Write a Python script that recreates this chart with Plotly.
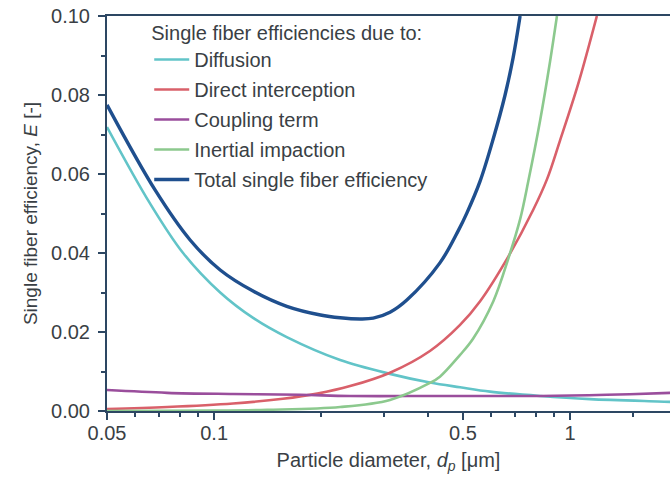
import math
import plotly.graph_objects as go

# ---- data (particle diameter in µm, efficiency E [-]) ----
diff_d = [0.05, 0.0661, 0.0818, 0.104, 0.129, 0.160, 0.226, 0.312, 0.404, 0.491, 0.596, 0.824, 1.138, 1.91, 2.0]
diff_e = [0.0719, 0.0525, 0.0400, 0.0300, 0.0235, 0.0187, 0.0129, 0.0094, 0.0072, 0.0060, 0.0049, 0.0038, 0.0030, 0.0023, 0.0022]

inter_d = [0.05, 0.0738, 0.113, 0.156, 0.195, 0.241, 0.312, 0.404, 0.491, 0.559, 0.671, 0.789, 0.862, 0.937, 1.053, 1.19]
inter_e = [0.0005, 0.0010, 0.0019, 0.0031, 0.0044, 0.0063, 0.0097, 0.0152, 0.0218, 0.0278, 0.0391, 0.0510, 0.0587, 0.0684, 0.0826, 0.1]

coup_d = [0.05, 0.0738, 0.113, 0.1745, 0.241, 0.431, 0.824, 1.27, 1.91, 2.0]
coup_e = [0.0053, 0.0046, 0.0043, 0.0041, 0.0038, 0.0038, 0.0038, 0.0041, 0.0046, 0.0047]

inert_d = [0.05, 0.1, 0.141, 0.226, 0.312, 0.404, 0.431, 0.491, 0.534, 0.609, 0.671, 0.724, 0.764, 0.824, 0.879, 0.919]
inert_e = [0.0000, 0.0001, 0.0003, 0.0010, 0.0028, 0.0071, 0.0087, 0.0142, 0.0183, 0.0278, 0.0386, 0.0485, 0.0583, 0.0735, 0.0885, 0.1]

total_d = [0.05, 0.0683, 0.0856, 0.104, 0.129, 0.160, 0.199, 0.226, 0.257, 0.280, 0.312, 0.348, 0.431, 0.485, 0.513, 0.559, 0.609, 0.657, 0.692, 0.724]
total_e = [0.0775, 0.0559, 0.0433, 0.0357, 0.0303, 0.0265, 0.0243, 0.0236, 0.0233, 0.0235, 0.0250, 0.0281, 0.0375, 0.0456, 0.0501, 0.0582, 0.0690, 0.0800, 0.0894, 0.1]

series_names = ["Diffusion", "Direct interception", "Coupling term", "Inertial impaction",
                "Total single fiber efficiency"]

x_major = [0.05, 0.1, 0.5, 1, 2]
x_major_labels = ["0.05", "0.1", "0.5", "1", "2"]
x_minor = [0.06, 0.07, 0.08, 0.09, 0.2, 0.3, 0.4, 0.6, 0.7, 0.8, 0.9, 1.5]
y_major = [0.00, 0.02, 0.04, 0.06, 0.08, 0.10]
y_minor = [0.01, 0.03, 0.05, 0.07, 0.09]

x_min, x_max = 0.05, 1.91
y_min, y_max = 0.0, 0.10

# ---- styling ----
FONT = "Liberation Sans, Arial, sans-serif"
TXT = "#3a3f45"
AXC = "#2d4763"
colors = ["#62c4c8", "#d9606a", "#9a4e9c", "#8cc98e", "#1f4f8e"]
widths = [2.6, 2.6, 2.6, 2.6, 3.4]

fig = go.Figure()
data = [(diff_d, diff_e), (inter_d, inter_e), (coup_d, coup_e), (inert_d, inert_e), (total_d, total_e)]
for i, ((xd, yd), name) in enumerate(zip(data, series_names)):
    fig.add_trace(go.Scatter(
        x=xd, y=yd, mode="lines", name=name, legendgroup=f"g{i}",
        line=dict(color=colors[i], width=widths[i], shape="spline", smoothing=1.0),
    ))

# tick label that sits just past the visible right edge (placed via the axis' log scale)
lo, hi = math.log10(x_min), math.log10(x_max)
annots = []
for v, t in zip(x_major, x_major_labels):
    if v > x_max:
        annots.append(dict(x=(math.log10(v) - lo) / (hi - lo), y=0, xref="paper", yref="paper",
                           text=t, showarrow=False, yanchor="middle", xanchor="center",
                           yshift=-21, font=dict(family=FONT, size=20, color=TXT)))

fig.update_layout(
    width=670, height=479,
    margin=dict(l=107, r=0, t=16, b=68),
    paper_bgcolor="white", plot_bgcolor="white",
    font=dict(family=FONT, size=20, color=TXT),
    showlegend=True,
    legend=dict(
        x=0.075, y=1.005, xanchor="left", yanchor="top",
        bgcolor="rgba(0,0,0,0)", borderwidth=0,
        font=dict(family=FONT, size=20, color=TXT),
        title=dict(text="Single fiber efficiencies due to:", font=dict(family=FONT, size=20, color=TXT)),
        tracegroupgap=1, itemwidth=35,
    ),
    annotations=annots,
    xaxis=dict(
        type="log", range=[lo, hi],
        tickvals=x_major, ticktext=x_major_labels,
        ticks="outside", ticklen=7, tickwidth=1.5, tickcolor=AXC,
        minor=dict(tickvals=x_minor, ticks="outside", ticklen=4, tickwidth=1.5, tickcolor=AXC),
        showline=True, linecolor=AXC, linewidth=2, mirror=True,
        showgrid=False, zeroline=False,
        tickfont=dict(family=FONT, size=20, color=TXT),
        ticklabelstandoff=-4,
        title=dict(text="Particle diameter, <i>d</i><sub><i>p</i></sub> [μm]",
                   font=dict(family=FONT, size=20, color=TXT), standoff=10),
    ),
    yaxis=dict(
        range=[y_min, y_max],
        tickvals=y_major, tickformat=".2f",
        ticks="outside", ticklen=7, tickwidth=1.5, tickcolor=AXC,
        minor=dict(tickvals=y_minor, ticks="outside", ticklen=4, tickwidth=1.5, tickcolor=AXC),
        showline=True, linecolor=AXC, linewidth=2,
        showgrid=False, zeroline=False,
        tickfont=dict(family=FONT, size=20, color=TXT),
        ticklabelstandoff=4,
        title=dict(text="Single fiber efficiency, <i>E</i> [-]",
                   font=dict(family=FONT, size=19, color=TXT), standoff=8),
    ),
)

fig.write_html("out.html")
